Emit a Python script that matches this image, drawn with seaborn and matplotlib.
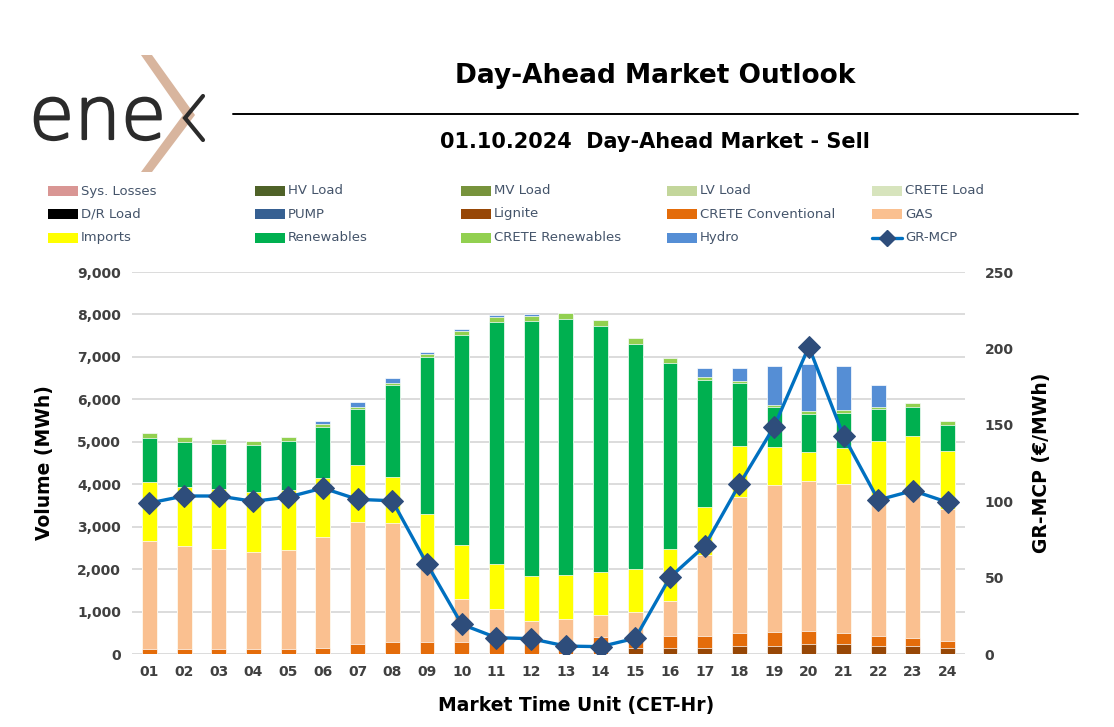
import numpy as np
import pandas as pd
import matplotlib
matplotlib.use("Agg")
import matplotlib.pyplot as plt
import seaborn as sns
import matplotlib.patheffects as pe
from matplotlib.patches import Rectangle, Polygon
from matplotlib.lines import Line2D

# ---------------- data ----------------
hours = [f"{i:02d}" for i in range(1, 25)]
lignite = [0, 0, 0, 0, 0, 0, 0, 0, 0, 0, 0, 0, 0, 0, 150, 150, 150, 200, 200, 230, 230, 200, 200, 150]
crete_conv = [120, 120, 120, 120, 120, 130, 230, 275, 290, 285, 275, 285, 310, 390, 200, 280, 265, 295, 325, 320, 265, 225, 175, 150]
gas = [2550, 2425, 2355, 2290, 2340, 2630, 2890, 2815, 1920, 1015, 785, 495, 515, 520, 630, 820, 1915, 3215, 3455, 3530, 3515, 3195, 3375, 3120]
imports = [1385, 1390, 1415, 1405, 1405, 1395, 1335, 1090, 1080, 1270, 1060, 1060, 1035, 1020, 1030, 1225, 1130, 1190, 905, 690, 835, 1390, 1395, 1355]
renewables = [1040, 1070, 1065, 1115, 1145, 1200, 1325, 2150, 3710, 4945, 5710, 6010, 6025, 5805, 5300, 4390, 3000, 1480, 930, 890, 840, 755, 685, 630]
crete_ren = [110, 100, 105, 90, 105, 55, 35, 60, 70, 105, 110, 120, 140, 135, 130, 115, 65, 45, 45, 60, 65, 50, 90, 95]
hydro = [0, 0, 0, 0, 0, 80, 125, 120, 45, 40, 50, 40, 0, 0, 0, 0, 205, 320, 925, 1115, 1035, 515, 0, 0]
gr_mcp = [98.8, 103.4, 103.4, 99.9, 102.7, 108.6, 101.2, 100.3, 58.9, 19.4, 10.7, 10.0, 5.2, 4.8, 10.3, 50.2,
          70.7, 111.0, 148.8, 201.1, 142.7, 100.8, 106.9, 99.3]

legend_labels = ["Sys. Losses", "HV Load", "MV Load", "LV Load", "CRETE Load",
                 "D/R Load", "PUMP", "Lignite", "CRETE Conventional", "GAS",
                 "Imports", "Renewables", "CRETE Renewables", "Hydro", "GR-MCP"]
legend_colors = ["#D99694", "#4F6228", "#77933C", "#C3D69B", "#D7E4BD",
                 "#000000", "#366092", "#974706", "#E46C0A", "#FAC090",
                 "#FFFF00", "#00B050", "#92D050", "#558ED5", None]

stack_names = ["Lignite", "CRETE Conventional", "GAS", "Imports", "Renewables", "CRETE Renewables", "Hydro"]
stack_vals = [lignite, crete_conv, gas, imports, renewables, crete_ren, hydro]
stack_cols = ["#974706", "#E46C0A", "#FAC090", "#FFFF00", "#00B050", "#92D050", "#558ED5"]

# ---------------- figure ----------------
sns.set_theme(style="white")
plt.rcParams["font.family"] = ["DejaVu Sans"]
W, H = 1114, 727
fig = plt.figure(figsize=(W / 100, H / 100), dpi=100)

def fx(px):
    return px / W

def fy(py):
    return 1 - py / H

ax = fig.add_axes([fx(132), fy(654), fx(965) - fx(132), fy(272) - fy(654)])

cum = np.cumsum(np.array(stack_vals, dtype=float), axis=0)
# draw from top layer to bottom so that lower cumulative bars overlay
for i in range(len(stack_vals) - 1, -1, -1):
    df = pd.DataFrame({"hour": hours, "val": cum[i]})
    sns.barplot(data=df, x="hour", y="val", color=stack_cols[i], saturation=1,
                width=0.43, errorbar=None, ax=ax, edgecolor="#FFFFFF",
                linewidth=0.5, zorder=2)

ax.set_ylim(0, 9000)
ax.set_xlim(-0.5, 23.5)
ax.set_yticks(np.arange(0, 9001, 1000))
ax.set_yticklabels([f"{v:,}" for v in range(0, 9001, 1000)])
ax.yaxis.grid(True, color="#D9D9D9", linewidth=1.3, zorder=0)
ax.set_axisbelow(True)
for s in ax.spines.values():
    s.set_visible(False)
ax.set_xlabel("")
ax.set_ylabel("")
ax.tick_params(axis="both", length=0, labelsize=10, labelcolor="#404040", pad=8)
for t in ax.get_xticklabels() + ax.get_yticklabels():
    t.set_fontweight("bold")

ax2 = ax.twinx()
sns.lineplot(x=np.arange(24), y=gr_mcp, ax=ax2, color="#0070C0", linewidth=2.4,
             marker="D", markersize=11.5, markerfacecolor="#2E4D7B",
             markeredgecolor="#2E4D7B", legend=False, zorder=5)
ax2.set_ylim(0, 250)
ax2.set_xlim(-0.5, 23.5)
ax2.set_yticks(np.arange(0, 251, 50))
for s in ax2.spines.values():
    s.set_visible(False)
ax2.grid(False)
ax2.tick_params(axis="y", length=0, labelsize=10, labelcolor="#404040", pad=14)
for t in ax2.get_yticklabels():
    t.set_fontweight("bold")
ax2.set_ylabel("")

# axis labels
fig.text(fx(45), fy(463), "Volume (MWh)", rotation=90, ha="center", va="center",
         fontsize=13.5, fontweight="bold", color="#000000")
fig.text(fx(1042), fy(463), "GR-MCP (€/MWh)", rotation=90, ha="center", va="center",
         fontsize=13.5, fontweight="bold", color="#000000")
fig.text(fx(576), fy(706), "Market Time Unit (CET-Hr)", ha="center", va="center",
         fontsize=13.5, fontweight="bold", color="#000000")

# titles
fig.text(fx(655), fy(76), "Day-Ahead Market Outlook", ha="center", va="center",
         fontsize=19, fontweight="bold", color="#000000")
fig.add_artist(Line2D([fx(233), fx(1078)], [fy(114), fy(114)], color="#000000",
                      linewidth=1.4, transform=fig.transFigure))
fig.text(fx(655), fy(142), "01.10.2024  Day-Ahead Market - Sell", ha="center", va="center",
         fontsize=15, fontweight="bold", color="#000000")

# legend (manual grid, row-major)
col_x = [48, 255, 461, 667, 872]
row_y = [191, 214, 238]
for k, (lab, col) in enumerate(zip(legend_labels, legend_colors)):
    r, c = divmod(k, 5)
    x0, y0 = col_x[c], row_y[r]
    if col is not None:
        fig.add_artist(Rectangle((fx(x0), fy(y0 + 5)), fx(30), fy(0) - fy(10),
                                 facecolor=col, edgecolor="none", transform=fig.transFigure))
    else:
        fig.add_artist(Line2D([fx(x0), fx(x0 + 30)], [fy(y0), fy(y0)], color="#0070C0",
                              linewidth=2.4, transform=fig.transFigure))
        fig.add_artist(Line2D([fx(x0 + 15)], [fy(y0)], marker="D", markersize=8,
                              color="#2E4D7B", transform=fig.transFigure))
    fig.text(fx(x0 + 33), fy(y0), lab, ha="left", va="center", fontsize=9.5, color="#44546A")

# logo
fig.text(fx(29), fy(139), "ene", ha="left", va="baseline", fontsize=53,
         family=["DejaVu Sans"], fontweight="light", color="#2B2B2B",
         path_effects=[pe.withStroke(linewidth=1.6, foreground="#2B2B2B")])
chev = [(141, 55), (152, 55), (195, 115), (152, 172), (141, 172), (183, 115)]
fig.add_artist(Polygon([(fx(a), fy(b)) for a, b in chev], closed=True, facecolor="#D8B59E",
                       edgecolor="none", transform=fig.transFigure))
fig.add_artist(Line2D([fx(203), fx(185), fx(203)], [fy(96), fy(118), fy(140)],
                      color="#2B2B2B", linewidth=3, solid_joinstyle="miter",
                      transform=fig.transFigure))

fig.savefig("out.png", dpi=100, facecolor="white")
